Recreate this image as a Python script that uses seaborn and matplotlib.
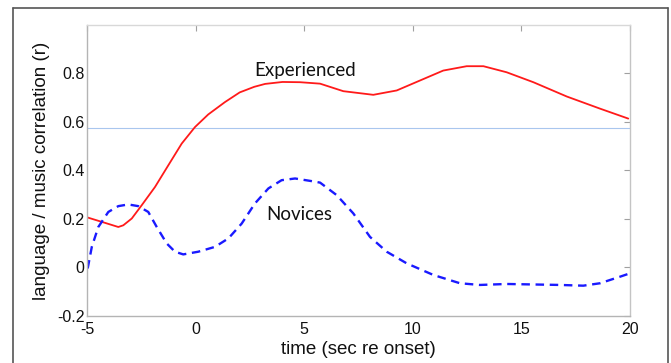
import matplotlib
matplotlib.use("Agg")
import matplotlib.pyplot as plt
import matplotlib.lines as mlines
import seaborn as sns
import pandas as pd

# ---- data ----
exp_t = [-4.97, -4.17, -3.56, -3.33, -2.94, -2.48, -1.87, -1.26, -0.64, -0.03, 0.58,
         1.35, 2.03, 2.7, 3.2, 4.0, 4.81, 5.73, 6.80, 8.18, 9.26, 10.33, 11.40, 12.48,
         13.25, 14.32, 15.55, 17.09, 18.62, 19.92]
exp_r = [0.206, 0.184, 0.167, 0.174, 0.202, 0.257, 0.332, 0.421, 0.511, 0.579, 0.631,
         0.682, 0.722, 0.745, 0.757, 0.765, 0.764, 0.758, 0.727, 0.712, 0.730, 0.771,
         0.812, 0.830, 0.830, 0.805, 0.764, 0.705, 0.655, 0.614]

nov_t = [-4.97, -4.78, -4.48, -4.02, -3.56, -3.10, -2.64, -2.18, -1.79, -1.33, -0.95,
         -0.57, 0.12, 0.89, 1.51, 2.12, 2.73, 3.35, 3.96, 4.58, 5.35, 5.73, 6.50, 7.26,
         8.03, 8.80, 9.72, 10.95, 12.17, 13.09, 14.32, 15.55, 16.78, 17.85, 18.62, 19.54,
         20]
nov_r = [-0.004, 0.085, 0.167, 0.229, 0.253, 0.260, 0.253, 0.229, 0.167, 0.099, 0.065,
         0.054, 0.065, 0.085, 0.120, 0.181, 0.264, 0.326, 0.360, 0.367, 0.356, 0.350,
         0.298, 0.223, 0.126, 0.065, 0.017, -0.031, -0.065, -0.072, -0.068, -0.070,
         -0.072, -0.075, -0.065, -0.038, -0.024]

threshold = 0.575
x_ticks = [-5, 0, 5, 10, 15, 20]
y_ticks = [-0.2, 0, 0.2, 0.4, 0.6, 0.8]
y_tick_labels = ["-0.2", "0", "0.2", "0.4", "0.6", "0.8"]
labels = ["Experienced", "Novices"]
label_pos = [(5.02, 0.788), (4.78, 0.195)]

# ---- plot ----
sns.set_style("white")
plt.rcParams["font.family"] = ["Liberation Sans", "DejaVu Sans"]

fig = plt.figure(figsize=(6.71, 3.63), dpi=100)
ax = fig.add_axes([0.1297, 0.1295, 0.8092, 0.8017])

df_exp = pd.DataFrame({"t": exp_t, "r": exp_r})
df_nov = pd.DataFrame({"t": nov_t, "r": nov_r})

ax.axhline(threshold, color="#a9c6ee", lw=0.8, zorder=1)
sns.lineplot(data=df_exp, x="t", y="r", ax=ax, color="#ff1a1a", lw=1.3, sort=False)
sns.lineplot(data=df_nov, x="t", y="r", ax=ax, color="#1a1aff", lw=1.7, sort=False,
             dashes=False)
ax.lines[-1].set_linestyle((0, (3.6, 2.4)))

ax.set_xlim(-5, 20)
ax.set_ylim(-0.2, 1.0)
ax.set_xticks(x_ticks)
ax.set_xticklabels([str(v) for v in x_ticks])
ax.set_yticks(y_ticks)
ax.set_yticklabels(y_tick_labels)

ax.tick_params(axis="both", direction="in", length=4, width=0.8, color="#a0a0a0",
               labelsize=11.5, labelcolor="#111111", pad=2, top=True, right=True)
ax.tick_params(axis="x", pad=4)

for side, col in [("left", "#b4b4b4"), ("bottom", "#b4b4b4"),
                  ("top", "#d8d8d8"), ("right", "#c4c4c4")]:
    ax.spines[side].set_visible(True)
    ax.spines[side].set_color(col)
    ax.spines[side].set_linewidth(1.0)

ax.set_xlabel("time (sec re onset)", fontsize=13.5, color="#111111", labelpad=3)
ax.set_ylabel("language / music correlation (r)", fontsize=13.5, color="#111111",
              labelpad=5)

for txt, (xp, yp) in zip(labels, label_pos):
    ax.text(xp, yp, txt, fontsize=13.5, family=["Lato", "DejaVu Sans"], ha="center",
            va="baseline", color="#111111")

# outer frame of the figure
frame_col = "#555555"
fig.add_artist(mlines.Line2D([12.5 / 671, 12.5 / 671], [-0.01, 1 - 8 / 363],
                             transform=fig.transFigure, color=frame_col, lw=1.2))
fig.add_artist(mlines.Line2D([12.5 / 671, 667.5 / 671], [1 - 8 / 363, 1 - 8 / 363],
                             transform=fig.transFigure, color=frame_col, lw=1.2))
fig.add_artist(mlines.Line2D([667.5 / 671, 667.5 / 671], [-0.01, 1 - 8 / 363],
                             transform=fig.transFigure, color=frame_col, lw=1.2))

fig.savefig("out.png", dpi=100)
